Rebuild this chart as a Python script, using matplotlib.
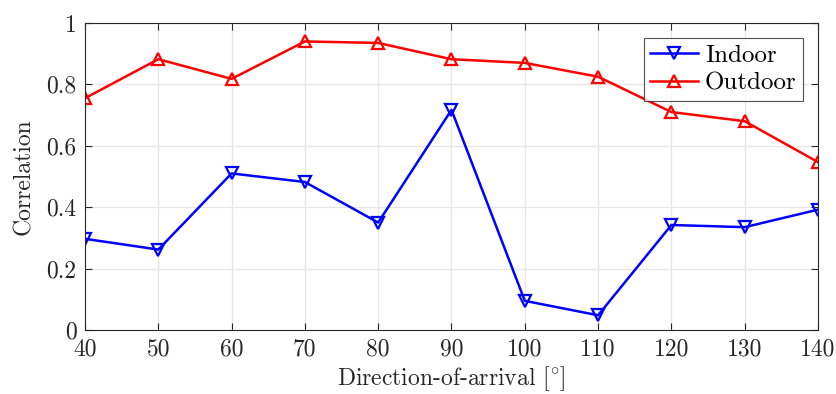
import matplotlib
matplotlib.use("Agg")
import matplotlib.pyplot as plt

doa = [40, 50, 60, 70, 80, 90, 100, 110, 120, 130, 140]
indoor = [0.297, 0.262, 0.510, 0.482, 0.350, 0.717, 0.095, 0.048, 0.342, 0.335, 0.392]
outdoor = [0.755, 0.882, 0.818, 0.940, 0.935, 0.882, 0.870, 0.825, 0.710, 0.680, 0.547]
xticks = [40, 50, 60, 70, 80, 90, 100, 110, 120, 130, 140]
yticks = [0, 0.2, 0.4, 0.6, 0.8, 1.0]
yticklabels = ["0", "0.2", "0.4", "0.6", "0.8", "1"]

plt.rcParams['font.family'] = ['cmr10', 'DejaVu Serif']
plt.rcParams['mathtext.fontset'] = 'cm'
plt.rcParams['axes.formatter.use_mathtext'] = True

fig = plt.figure(figsize=(8.37, 3.94), dpi=100)
ax = fig.add_axes([85/837, 1-330/394, (818-85)/837, (330-23)/394])

ax.plot(doa, indoor, color='#0000ff', lw=1.8, marker='v', ms=9, mfc='none', mew=1.6, label='Indoor')
ax.plot(doa, outdoor, color='#ff0000', lw=1.8, marker='^', ms=9, mfc='none', mew=1.6, label='Outdoor')

ax.set_xlim(40, 140)
ax.set_ylim(0, 1)
ax.set_xticks(xticks)
ax.set_xticklabels([str(x) for x in xticks])
ax.set_yticks(yticks)
ax.set_yticklabels(yticklabels)
ax.tick_params(direction='in', top=True, right=True, labelsize=17, length=5, width=0.8, colors='#262626', pad=6)
ax.grid(True, color='#e6e6e6', lw=0.9)
ax.set_axisbelow(True)
for s in ax.spines.values():
    s.set_color('#262626')
    s.set_linewidth(0.8)

ax.set_xlabel(r'Direction-of-arrival [$^{\circ}$]', fontsize=17, color='#262626', labelpad=3)
ax.set_ylabel('Correlation', fontsize=17, color='#262626', labelpad=8)

leg = ax.legend(loc='upper right', fontsize=18, frameon=True, fancybox=False, edgecolor='#262626',
                handlelength=1.9, borderpad=0.25, labelspacing=0.2, handletextpad=0.3, borderaxespad=0.6)
leg.get_frame().set_linewidth(0.8)

fig.savefig('out.png', dpi=100)
